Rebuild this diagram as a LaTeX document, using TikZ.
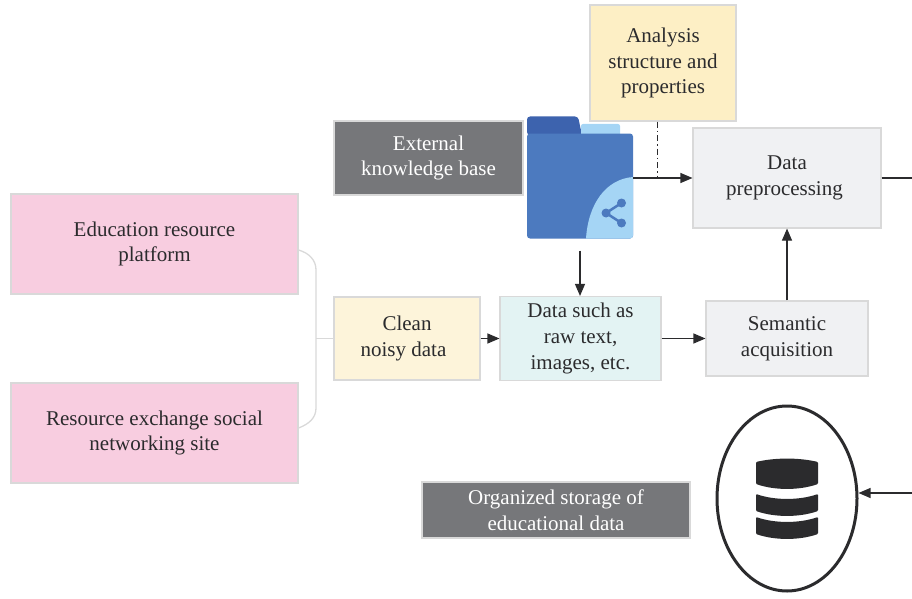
\documentclass[tikz,border=0pt]{standalone}
\usepackage{fontspec}
\setmainfont{Liberation Serif}
\usetikzlibrary{arrows.meta,shapes.geometric,calc,positioning}
\definecolor{inkdark}{HTML}{2B2B2D}
\definecolor{boxline}{HTML}{D9D9D9}
\definecolor{pinkbox}{HTML}{F8CDE0}
\definecolor{creambox}{HTML}{FDF4DA}
\definecolor{tealbox}{HTML}{E3F3F3}
\definecolor{greybox}{HTML}{F0F1F3}
\definecolor{yellowbox}{HTML}{FDEFC5}
\definecolor{darkbox}{HTML}{76777A}
\definecolor{folderblue}{HTML}{4C7ABF}
\definecolor{foldertab}{HTML}{3D63AE}
\definecolor{folderlight}{HTML}{A5D5F5}
\tikzstyle{box}   =[rectangle, draw=boxline, line width=1.1pt, align=center,
                    text=inkdark, inner sep=2pt, font=\fontsize{21}{25.8}\selectfont]
\tikzstyle{dark}  =[box, fill=darkbox, text=white]
\tikzstyle{edge}  =[-{Triangle[length=12pt,width=10pt]}, line width=1.1pt, color=inkdark]
\tikzstyle{brace} =[line width=1.3pt, color=boxline]
\begin{document}
\begin{tikzpicture}[x=1pt, y=-1pt, node distance=1cm, on grid]
            \useasboundingbox (0,0) rectangle (912,599);
            \node (pinkA) [box, fill=pinkbox, minimum width=287pt, minimum height=100pt] at (154.5,244) {Education resource\\platform};
            \node (pinkB) [box, fill=pinkbox, minimum width=287pt, minimum height=100pt, below=189pt of pinkA] {Resource exchange social\\networking site};
            \node (clean) [box, fill=creambox, minimum width=146pt, minimum height=83pt] at (407,338.5) {Clean\\noisy data\hspace*{7pt}};
            \node (data) [box, fill=tealbox, minimum width=161pt, minimum height=84pt, right=173.5pt of clean] {Data such as\\raw text,\\images, etc.};
            \node (semantic) [box, fill=greybox, minimum width=162pt, minimum height=75pt, right=206.5pt of data] {Semantic\\acquisition};
            \node (prep) [box, fill=greybox, minimum width=188pt, minimum height=100pt] at (787,178) {Data\\preprocessing\hspace*{5pt}};
            \node (analysis) [box, fill=yellowbox, minimum width=146pt, minimum height=116pt] at (663,63) {Analysis\\structure and\\properties};
            \node (external) [dark, minimum width=189pt, minimum height=74pt] at (428.5,158) {External\\knowledge base};
            \node (organized) [dark, minimum width=268pt, minimum height=56pt] at (556,510) {Organized storage of\\educational data};
            \node (store) [ellipse, draw=inkdark, line width=3pt, minimum width=140pt, minimum height=185pt, inner sep=0pt] at (787,498.5) {};
            % folder icon
            \fill[foldertab, rounded corners=3pt] (527,135) -- (527,116.5) -- (578,116.5) -- (582,135) -- cycle;
            \fill[folderlight, rounded corners=2pt] (581,124) -- (620,124) -- (620,140) -- (581,140) -- cycle;
            \node (folder) [rectangle, fill=folderblue, rounded corners=3pt, minimum width=106pt, minimum height=105pt, inner sep=0pt, outer sep=0pt] at (580,186) {};
            \begin{scope}
                \clip[rounded corners=3pt] (folder.south west) rectangle (folder.north east);
                \fill[folderlight] (633,177) .. controls (606,179) and (588,204) .. (586,239) -- (634,239) -- (634,177) -- cycle;
            \end{scope}
            \draw[folderblue, line width=2.5pt] (621.5,203) -- (606,213) -- (621.5,223);
            \fill[folderblue] (621.5,203) circle (4.5pt) (606,213) circle (4.5pt) (621.5,223) circle (4.5pt);
            % database icon
            \fill[inkdark, rounded corners=1pt] (756,462) .. controls (775,457.5) and (799,457.5) .. (818,462) -- (818,484) .. controls (799,490.5) and (775,490.5) .. (756,484) -- cycle;
            \fill[inkdark, rounded corners=1pt] (756,494) .. controls (775,500.5) and (799,500.5) .. (818,494) -- (818,511) .. controls (799,517.5) and (775,517.5) .. (756,511) -- cycle;
            \fill[inkdark, rounded corners=1pt] (756,517) .. controls (775,523.5) and (799,523.5) .. (818,517) -- (818,534) .. controls (799,540.5) and (775,540.5) .. (756,534) -- cycle;
            % connectors
            \coordinate (tap) at (657,178);
            \coordinate (prepOut) at (912,178);
            \coordinate (storeIn) at (912,493);
            \coordinate (join) at (316,338.5);
            \draw[brace] ([yshift=-6pt]pinkA.east) .. controls (309,253) and (316,260) .. (316,270) -- (316,408) .. controls (316,418) and (309,424) .. ([yshift=5pt]pinkB.east);
            \draw[brace] (join) to (clean);
            \draw[edge] (clean) to (data);
            \draw[edge] (data) to (semantic);
            \draw[edge] (semantic.north -| prep) to (prep);
            \draw[edge] ([yshift=-12pt]folder.south) to (data.north -| folder);
            \draw[edge] (folder.east |- tap) to (prep.west |- tap);
            \draw[line width=1pt, inkdark, dash pattern=on 6pt off 3pt on 1.5pt off 3pt] ([xshift=-6pt]analysis.south) to (tap);
            \draw[line width=1.1pt, inkdark] (prep.east |- prepOut) to (prepOut);
            \draw[edge] (storeIn) to (store.east |- storeIn);
        \end{tikzpicture}
\end{document}
